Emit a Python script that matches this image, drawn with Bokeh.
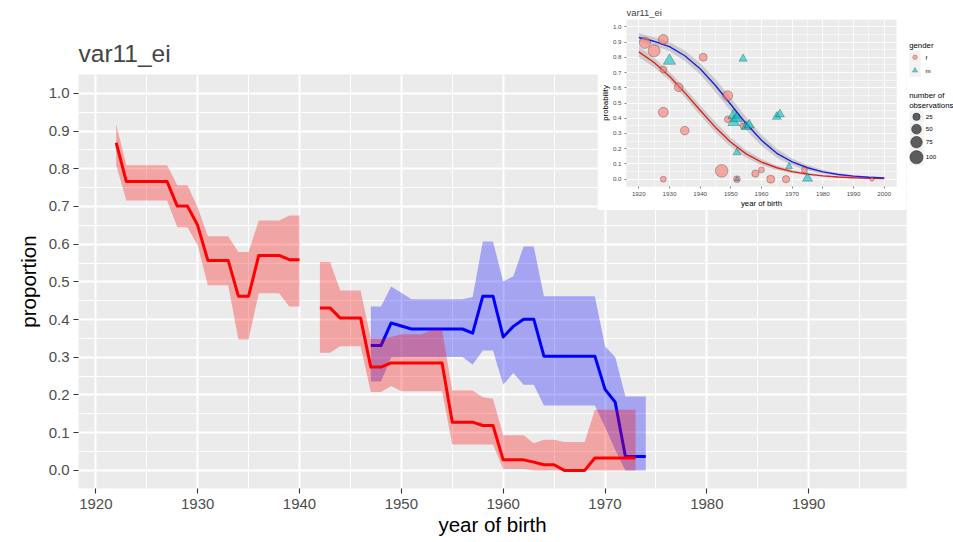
import math
from bokeh.plotting import figure
from bokeh.models import Range1d, FixedTicker, NumeralTickFormatter
from bokeh.core.properties import value
from bokeh.embed import file_html
from bokeh.resources import INLINE

FONT = "Liberation Sans"
nan = float("nan")

# ---------------- main chart data ----------------
MAIN_TITLE = "var11_ei"
X_LABEL = "year of birth"
Y_LABEL = "proportion"
X_TICKS = [1920, 1930, 1940, 1950, 1960, 1970, 1980, 1990]
Y_TICKS = [0.0, 0.1, 0.2, 0.3, 0.4, 0.5, 0.6, 0.7, 0.8, 0.9, 1.0]

f_years = list(range(1922, 1974))
f_prop = [0.869, 0.766, 0.766, 0.766, 0.766, 0.766, 0.701, 0.701, 0.650, 0.557,
          0.557, 0.557, 0.462, 0.462, 0.570, 0.570, 0.570, 0.559, 0.559, nan,
          0.431, 0.431, 0.404, 0.404, 0.404, 0.274, 0.274, 0.285, 0.285, 0.285,
          0.285, 0.285, 0.285, 0.128, 0.128, 0.128, 0.119, 0.119, 0.028, 0.028,
          0.028, 0.022, 0.015, 0.015, 0.000, 0.000, 0.000, 0.033, 0.033, 0.033,
          0.033, 0.033]
f_low = [0.809, 0.716, 0.716, 0.716, 0.716, 0.716, 0.645, 0.645, 0.597, 0.491,
         0.491, 0.491, 0.347, 0.347, 0.470, 0.470, 0.470, 0.435, 0.435, nan,
         0.312, 0.312, 0.329, 0.329, 0.329, 0.208, 0.208, 0.224, 0.210, 0.210,
         0.210, 0.210, 0.210, 0.069, 0.069, 0.069, 0.069, 0.069, 0.004, 0.004,
         0.004, 0.000, 0.000, 0.000, 0.000, 0.000, 0.000, 0.000, 0.000, 0.000,
         0.000, 0.000]
f_high = [0.918, 0.809, 0.809, 0.809, 0.809, 0.809, 0.756, 0.756, 0.698, 0.621,
          0.621, 0.621, 0.579, 0.579, 0.663, 0.663, 0.663, 0.676, 0.676, nan,
          0.553, 0.553, 0.477, 0.477, 0.477, 0.349, 0.349, 0.354, 0.361, 0.361,
          0.361, 0.373, 0.373, 0.212, 0.212, 0.212, 0.194, 0.190, 0.093, 0.093,
          0.093, 0.072, 0.081, 0.081, 0.075, 0.075, 0.075, 0.161, 0.161, 0.161,
          0.161, 0.161]

m_years = list(range(1947, 1975))
m_prop = [0.331, 0.331, 0.391, 0.383, 0.375, 0.375, 0.375, 0.375, 0.375, 0.375,
          0.364, 0.462, 0.462, 0.354, 0.382, 0.401, 0.401, 0.303, 0.303, 0.303,
          0.303, 0.303, 0.303, 0.215, 0.181, 0.037, 0.037, 0.037]
m_low = [0.236, 0.236, 0.300, 0.301, 0.301, 0.301, 0.301, 0.301, 0.301, 0.301,
         0.280, 0.318, 0.318, 0.227, 0.258, 0.227, 0.227, 0.172, 0.172, 0.172,
         0.172, 0.172, 0.172, 0.115, 0.055, 0.000, 0.000, 0.000]
m_high = [0.435, 0.435, 0.488, 0.471, 0.454, 0.454, 0.454, 0.454, 0.454, 0.454,
          0.460, 0.607, 0.607, 0.501, 0.515, 0.594, 0.594, 0.462, 0.462, 0.462,
          0.462, 0.462, 0.462, 0.329, 0.301, 0.196, 0.196, 0.196]

# ---------------- inset data ----------------
INSET_TITLE = "var11_ei"
INSET_X_LABEL = "year of birth"
INSET_Y_LABEL = "probability"
INSET_X_TICKS = [1920, 1930, 1940, 1950, 1960, 1970, 1980, 1990, 2000]
GENDER_TITLE = "gender"
GENDER_LEVELS = ["f", "m"]
SIZE_TITLE = ["number of", "observations"]
SIZE_BREAKS = [25, 50, 75, 100]

pt_f_year = [1922, 1925, 1928, 1928, 1928, 1928, 1933, 1935, 1941, 1947,
             1949, 1949, 1952, 1954, 1958, 1960, 1963, 1968, 1974, 1996]
pt_f_prob = [0.895, 0.843, 0.917, 0.720, 0.439, 0.000, 0.603, 0.319, 0.800, 0.055,
             0.548, 0.393, 0.000, 0.349, 0.037, 0.061, 0.000, 0.000, 0.061, 0.000]
pt_f_n = [70, 80, 52, 18, 52, 12, 37, 37, 30, 91, 52, 18, 18, 12, 23, 12, 30, 23, 12, 1]

pt_m_year = [1930, 1954, 1951, 1951, 1952, 1955, 1956, 1952, 1952, 1965, 1966, 1969, 1975]
pt_m_prob = [0.777, 0.790, 0.420, 0.375, 0.400, 0.345, 0.355, 0.175, 0.000, 0.410,
             0.426, 0.083, 0.006]
pt_m_n = [68, 25, 64, 64, 52, 42, 42, 23, 1, 32, 32, 15, 42]

fit_years = [1920, 1925, 1930, 1935, 1940, 1945, 1950, 1955, 1960, 1965, 1970,
             1975, 1980, 1985, 1990, 1995, 2000]
fit_m = [0.930, 0.905, 0.870, 0.810, 0.725, 0.615, 0.490, 0.365, 0.255, 0.170,
         0.113, 0.075, 0.048, 0.031, 0.020, 0.013, 0.008]
fit_m_lo = [0.903, 0.878, 0.840, 0.776, 0.687, 0.573, 0.446, 0.323, 0.218, 0.141,
            0.090, 0.057, 0.035, 0.022, 0.014, 0.009, 0.005]
fit_m_hi = [0.957, 0.932, 0.900, 0.844, 0.763, 0.657, 0.534, 0.407, 0.292, 0.199,
            0.136, 0.093, 0.061, 0.040, 0.026, 0.017, 0.011]
fit_f = [0.836, 0.766, 0.676, 0.568, 0.452, 0.340, 0.242, 0.166, 0.112, 0.075,
         0.050, 0.033, 0.022, 0.014, 0.009, 0.006, 0.004]
fit_f_lo = [0.800, 0.735, 0.647, 0.537, 0.419, 0.307, 0.212, 0.141, 0.092, 0.060,
            0.039, 0.025, 0.016, 0.010, 0.006, 0.004, 0.0025]
fit_f_hi = [0.872, 0.797, 0.705, 0.599, 0.485, 0.373, 0.272, 0.191, 0.132, 0.090,
            0.061, 0.041, 0.028, 0.018, 0.012, 0.008, 0.0055]

F_FILL, M_FILL = "#F8766D", "#00BFC4"


def diam(n):
    # size scale (area-linear), pixels
    return math.sqrt(16 + 1.6 * n)


def runs(xs, *cols):
    """split columns into contiguous runs without NaN"""
    segs, cur = [], None
    for i, x in enumerate(xs):
        vals = [c[i] for c in cols]
        if any(math.isnan(v) for v in vals):
            if cur:
                segs.append(cur)
            cur = None
            continue
        if cur is None:
            cur = [[] for _ in range(len(cols) + 1)]
        cur[0].append(x)
        for k, v in enumerate(vals):
            cur[k + 1].append(v)
    if cur:
        segs.append(cur)
    return segs


def style_axes(fig, size, tick_len, tick_w, lab_size):
    for ax in (fig.xaxis[0], fig.yaxis[0]):
        ax.axis_line_color = None
        ax.major_tick_line_color = "#333333"
        ax.major_tick_line_width = tick_w
        ax.major_tick_out = tick_len
        ax.major_tick_in = 0
        ax.minor_tick_line_color = None
        ax.major_label_text_font = FONT
        ax.major_label_text_font_size = size
        ax.major_label_text_color = "#4D4D4D"
        ax.axis_label_text_font = FONT
        ax.axis_label_text_font_size = lab_size
        ax.axis_label_text_font_style = "normal"
        ax.axis_label_text_color = "black"


def style_grid(fig, w_major, w_minor, xt, yt):
    fig.xaxis.ticker = xt
    fig.yaxis.ticker = yt
    fig.xgrid.ticker = xt
    fig.ygrid.ticker = yt
    fig.yaxis.formatter = NumeralTickFormatter(format="0.0")
    for g in (fig.xgrid[0], fig.ygrid[0]):
        g.grid_line_color = "white"
        g.grid_line_width = w_major
        g.minor_grid_line_color = "white"
        g.minor_grid_line_width = w_minor


# ================= main figure (page x 0..950, y 0..540) =================
p = figure(width=950, height=540, x_range=Range1d(1918.3, 1999.6),
           y_range=Range1d(-0.048, 1.05), output_backend="svg",
           toolbar_location=None, min_border_left=78, min_border_right=44,
           min_border_top=74, min_border_bottom=52,
           title=MAIN_TITLE, x_axis_label=X_LABEL, y_axis_label=Y_LABEL)
p.background_fill_color = "#EBEBEB"
p.border_fill_color = "white"
p.outline_line_color = None
p.title.text_font = FONT
p.title.text_font_size = "24.5px"
p.title.text_font_style = "normal"
p.title.align = "left"
p.title.standoff = 16

style_grid(p, 2, 1,
           FixedTicker(ticks=X_TICKS, minor_ticks=[t + 5 for t in X_TICKS]),
           FixedTicker(ticks=Y_TICKS, minor_ticks=[round(t + 0.05, 2) for t in Y_TICKS]))
style_axes(p, "15px", 5, 1.1, "20.5px")
p.xaxis.major_label_standoff = 5
p.yaxis.major_label_standoff = 4
p.xaxis.axis_label_standoff = 1
p.yaxis.axis_label_standoff = 6

# male (blue) band + line, then female (red) band + line
for xs, lo, hi, pr in runs(m_years, m_low, m_high, m_prop):
    p.varea(x=xs, y1=lo, y2=hi, fill_color="blue", fill_alpha=0.3)
    p.line(x=xs, y=pr, line_color="blue", line_width=3, line_join="round")
for xs, lo, hi, pr in runs(f_years, f_low, f_high, f_prop):
    p.varea(x=xs, y1=lo, y2=hi, fill_color="red", fill_alpha=0.3)
for xs, lo, hi, pr in runs(f_years, f_low, f_high, f_prop):
    p.line(x=xs, y=pr, line_color="red", line_width=3, line_join="round")

# ================= inset figure (page x 597..906, y 0..210) =================
ins = figure(width=309, height=210, x_range=Range1d(1916, 2004),
             y_range=Range1d(-0.048, 1.048), output_backend="svg",
             toolbar_location=None, min_border_left=28, min_border_right=10,
             min_border_top=19, min_border_bottom=23,
             title=INSET_TITLE, x_axis_label=INSET_X_LABEL, y_axis_label=INSET_Y_LABEL)
ins.background_fill_color = "#EBEBEB"
ins.border_fill_color = "white"
ins.outline_line_color = None
ins.title.text_font = FONT
ins.title.text_font_size = "9.4px"
ins.title.text_font_style = "normal"
ins.title.align = "left"
ins.title.standoff = 3
style_grid(ins, 0.9, 0.5,
           FixedTicker(ticks=INSET_X_TICKS, minor_ticks=[t + 5 for t in INSET_X_TICKS]),
           FixedTicker(ticks=Y_TICKS, minor_ticks=[round(t + 0.05, 2) for t in Y_TICKS]))
style_axes(ins, "6.2px", 2, 0.6, "7.8px")
ins.xaxis.major_label_standoff = 1
ins.yaxis.major_label_standoff = 1
ins.xaxis.axis_label_standoff = 0
ins.yaxis.axis_label_standoff = 0

ins.varea(x=fit_years, y1=fit_f_lo, y2=fit_f_hi, fill_color="#999999", fill_alpha=0.4)
ins.varea(x=fit_years, y1=fit_m_lo, y2=fit_m_hi, fill_color="#999999", fill_alpha=0.4)
ins.line(x=fit_years, y=fit_f, line_color="#E8201C", line_width=1.4)
ins.line(x=fit_years, y=fit_m, line_color="#2020E0", line_width=1.4)
ins.scatter(x=pt_f_year, y=pt_f_prob, size=[diam(n) for n in pt_f_n], marker="circle",
            fill_color=F_FILL, fill_alpha=0.6, line_color="black",
            line_alpha=0.35, line_width=0.7)
ins.scatter(x=pt_m_year, y=pt_m_prob, size=[1.1 * diam(n) for n in pt_m_n],
            marker="triangle", fill_color=M_FILL, fill_alpha=0.6,
            line_color="black", line_alpha=0.35, line_width=0.7)
ins.styles = {"position": "absolute", "left": "597px", "top": "0px"}

# ================= inset legend (page x 906..953, y 38..166) =================
leg = figure(width=47, height=128, x_range=Range1d(906, 953), y_range=Range1d(166, 38),
             output_backend="svg", toolbar_location=None, min_border=0,
             x_axis_location=None, y_axis_location=None)
leg.background_fill_color = "white"
leg.border_fill_color = "white"
leg.outline_line_color = None
leg.xgrid.grid_line_color = None
leg.ygrid.grid_line_color = None

# layout of the legend block (page pixels)
LX = 909.0
g_y = [56.7, 70.0]
s_y = [116.3, 128.7, 141.7, 156.7]
s_h = [11.5, 12.5, 13.5, 16.0]

leg.rect(x=[LX + 5.5] * 2, y=g_y, width=11, height=13, fill_color="#F2F2F2",
         line_color=None)
leg.rect(x=[LX + 7] * 4, y=s_y, width=14, height=s_h, fill_color="#F2F2F2",
         line_color=None)
leg.scatter(x=[LX + 5.5], y=[g_y[0]], size=4.6, marker="circle", fill_color=F_FILL,
            fill_alpha=0.6, line_color="black", line_alpha=0.35, line_width=0.6)
leg.scatter(x=[LX + 5.5], y=[g_y[1]], size=5.2, marker="triangle", fill_color=M_FILL,
            fill_alpha=0.6, line_color="black", line_alpha=0.35, line_width=0.6)
leg.scatter(x=[LX + 7] * 4, y=s_y, size=[diam(n) for n in SIZE_BREAKS], marker="circle",
            fill_color="black", fill_alpha=0.62, line_color="black", line_alpha=0.62,
            line_width=0.5)


def leg_text(xs, ys, texts, size):
    leg.text(x=xs, y=ys, text=texts, text_font=value(FONT), text_font_size=value(size),
             text_color="black", text_baseline="middle", text_align="left")


leg_text([LX - 0.3], [45.0], [GENDER_TITLE], "7.8px")
leg_text([LX - 0.3] * 2, [95.0, 104.5], SIZE_TITLE, "7.8px")
leg_text([LX + 16] * 2, g_y, GENDER_LEVELS, "6.2px")
leg_text([LX + 16.3] * 4, s_y, [str(n) for n in SIZE_BREAKS], "6.2px")
leg.styles = {"position": "absolute", "left": "906px", "top": "38px"}

open("out.html", "w").write(file_html([p, ins, leg], INLINE))
